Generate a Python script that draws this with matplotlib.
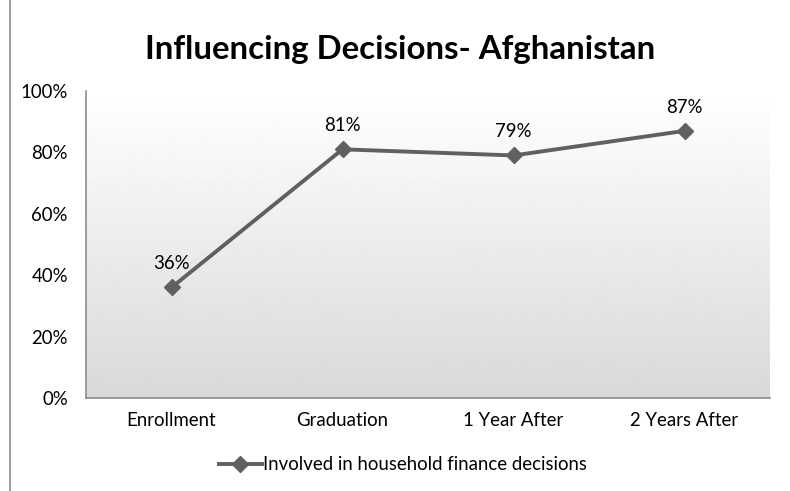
import numpy as np
import matplotlib.pyplot as plt
from matplotlib.lines import Line2D

plt.rcParams['font.family'] = ['Lato', 'DejaVu Sans']

categories = ["Enrollment", "Graduation", "1 Year After", "2 Years After"]
values = [36, 81, 79, 87]
series_name = "Involved in household finance decisions"
yticks = [0, 20, 40, 60, 80, 100]

fs = 13.4
fig = plt.figure(figsize=(7.9, 4.91), dpi=100)
ax = fig.add_axes([0.1089, 0.1894, 0.8658, 0.6253])

x = np.arange(len(categories))

# gradient background: white top -> light grey bottom
grad = np.linspace(0.85, 1.0, 256).reshape(-1, 1)
ax.imshow(grad, extent=[-0.5, 3.5, 0, 100], aspect='auto', cmap='gray',
          vmin=0, vmax=1, origin='lower', zorder=0)

color = "#606060"
ax.plot(x, values, color=color, lw=2.8, marker='D', markersize=8, zorder=3)
for xi, v in zip(x, values):
    ax.annotate(f"{v}%", (xi, v), xytext=(0, 11), textcoords='offset points',
                ha='center', va='bottom', fontsize=fs, color='black')

ax.set_xlim(-0.5, 3.5)
ax.set_ylim(0, 100)
ax.set_yticks(yticks)
ax.set_yticklabels([f"{t}%" for t in yticks], fontsize=fs)
ax.set_xticks(x)
ax.set_xticklabels(categories, fontsize=fs)
ax.tick_params(axis='x', length=0, pad=10)
ax.tick_params(axis='y', length=0, pad=13)
for s in ['top', 'right']:
    ax.spines[s].set_visible(False)
for s in ['left', 'bottom']:
    ax.spines[s].set_color('#8c8c8c')
    ax.spines[s].set_linewidth(1.2)

fig.text(0.506, 0.9, "Influencing Decisions- Afghanistan", ha='center', va='center',
         fontsize=23.8, fontweight='bold')

handle = Line2D([], [], color=color, lw=2.8, marker='D', markersize=8)
fig.legend([handle], [series_name], loc='center', bbox_to_anchor=(0.51, 0.053),
           frameon=False, fontsize=fs, handlelength=2.3, handletextpad=0.05)

# chart border on the left
fig.add_artist(Line2D([0.0127, 0.0127], [0, 1], color='#8c8c8c', lw=1.2))

fig.savefig("out.png", dpi=100)
